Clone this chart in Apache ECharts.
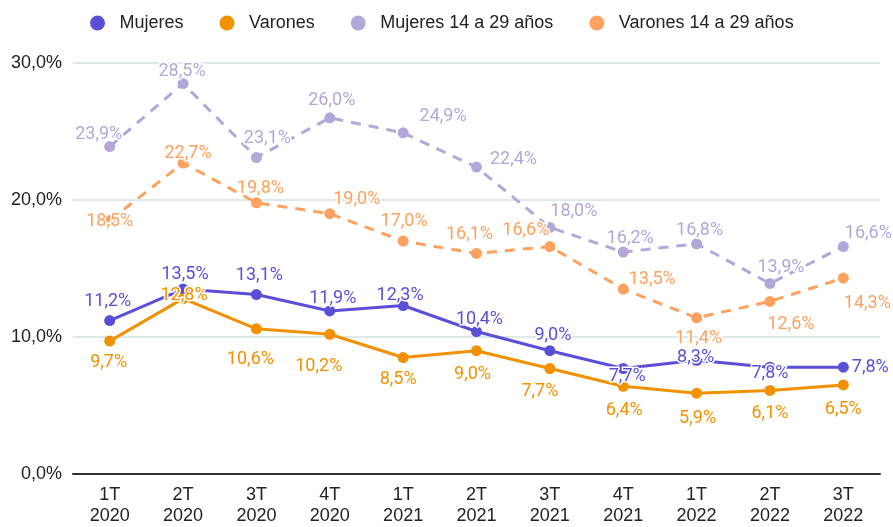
<!DOCTYPE html>
<html>
<head>
<meta charset="utf-8">
<script src="https://cdn.jsdelivr.net/npm/echarts@6/dist/echarts.min.js"></script>
<style>
  html, body { margin: 0; padding: 0; background: #fff; }
  #chart { width: 893px; height: 527px; }
</style>
</head>
<body>
<div id="chart"></div>
<script>
// datos
const categories = ['1T\n2020', '2T\n2020', '3T\n2020', '4T\n2020', '1T\n2021', '2T\n2021', '3T\n2021', '4T\n2021', '1T\n2022', '2T\n2022', '3T\n2022']
const mujeres = [11.2, 13.5, 13.1, 11.9, 12.3, 10.4, 9.0, 7.7, 8.3, 7.8, 7.8]
const varones = [9.7, 12.8, 10.6, 10.2, 8.5, 9.0, 7.7, 6.4, 5.9, 6.1, 6.5]
const mujeresJov = [23.9, 28.5, 23.1, 26.0, 24.9, 22.4, 18.0, 16.2, 16.8, 13.9, 16.6]
const varonesJov = [18.5, 22.7, 19.8, 19.0, 17.0, 16.1, 16.6, 13.5, 11.4, 12.6, 14.3]

// desplazamiento de las etiquetas respecto al punto
const offMujeres = [[-2, -19], [2, -15], [3, -19], [3, -12], [-3, -10], [3, -12], [3, -15], [4, 8], [-1, -3], [0, 6], [27, 0]]
const offVarones = [[-1, 21], [1, -3], [-6, 31], [-11, 32], [-5, 22], [-4, 24], [-10, 23], [1, 24], [1, 25], [0, 23], [0, 25]]
const offMujeresJov = [[-11, -12], [-1, -12], [11, -19], [2, -17], [40, -16], [37, -8], [24, -16], [7, -14], [3, -13], [11, -16], [25, -13]]
const offVaronesJov = [[0, 1], [5, -10], [4, -14], [27, -14], [1, -20], [-7, -19], [-24, -16], [29, -10], [2, 21], [21, 23], [24, 25]]

const fmt = (v) => v.toFixed(1).replace('.', ',') + '%'

const makeSeries = (name, values, offsets, color, dashed) => ({
  name,
  type: 'line',
  symbol: 'circle',
  symbolSize: 11,
  data: values.map((v, i) => ({ value: v, label: { offset: offsets[i] } })),
  itemStyle: { color },
  lineStyle: { color, width: 3, type: dashed ? [10, 8] : 'solid' },
  label: {
    show: true,
    position: 'inside',
    color,
    fontFamily: 'Roboto',
    fontSize: 18,
    textBorderColor: '#fff',
    textBorderWidth: 3,
    formatter: (p) => fmt(p.value)
  },
  emphasis: { disabled: true },
  animation: false
})

const chart = echarts.init(document.getElementById('chart'))

chart.setOption({
  backgroundColor: '#fff',
  textStyle: { fontFamily: 'Liberation Sans' },
  legend: {
    left: 85,
    top: 9,
    icon: 'circle',
    itemWidth: 34,
    itemHeight: 15,
    itemGap: 36,
    textStyle: { fontFamily: 'Liberation Sans', fontSize: 18, color: '#222' },
    data: ['Mujeres', 'Varones', 'Mujeres 14 a 29 años', 'Varones 14 a 29 años']
  },
  grid: { left: 73, right: 13, top: 63, bottom: 50 },
  xAxis: {
    type: 'category',
    data: categories,
    axisTick: { show: false },
    axisLine: { lineStyle: { color: '#333', width: 2 } },
    axisLabel: { fontFamily: 'Liberation Sans', fontSize: 18, color: '#222', lineHeight: 21, margin: 11 }
  },
  yAxis: {
    type: 'value',
    min: 0,
    max: 30,
    interval: 10,
    axisLine: { show: false },
    axisTick: { show: false },
    splitLine: { lineStyle: { color: '#d5e1e2', width: 1.5 } },
    axisLabel: { fontFamily: 'Liberation Sans', fontSize: 18, color: '#222', margin: 11, formatter: (v) => fmt(v) }
  },
  series: [
    makeSeries('Mujeres', mujeres, offMujeres, '#5b4fd8', false),
    makeSeries('Varones', varones, offVarones, '#f29100', false),
    makeSeries('Mujeres 14 a 29 años', mujeresJov, offMujeresJov, '#b3a7d9', true),
    makeSeries('Varones 14 a 29 años', varonesJov, offVaronesJov, '#ffa15e', true)
  ]
})
</script>
</body>
</html>
